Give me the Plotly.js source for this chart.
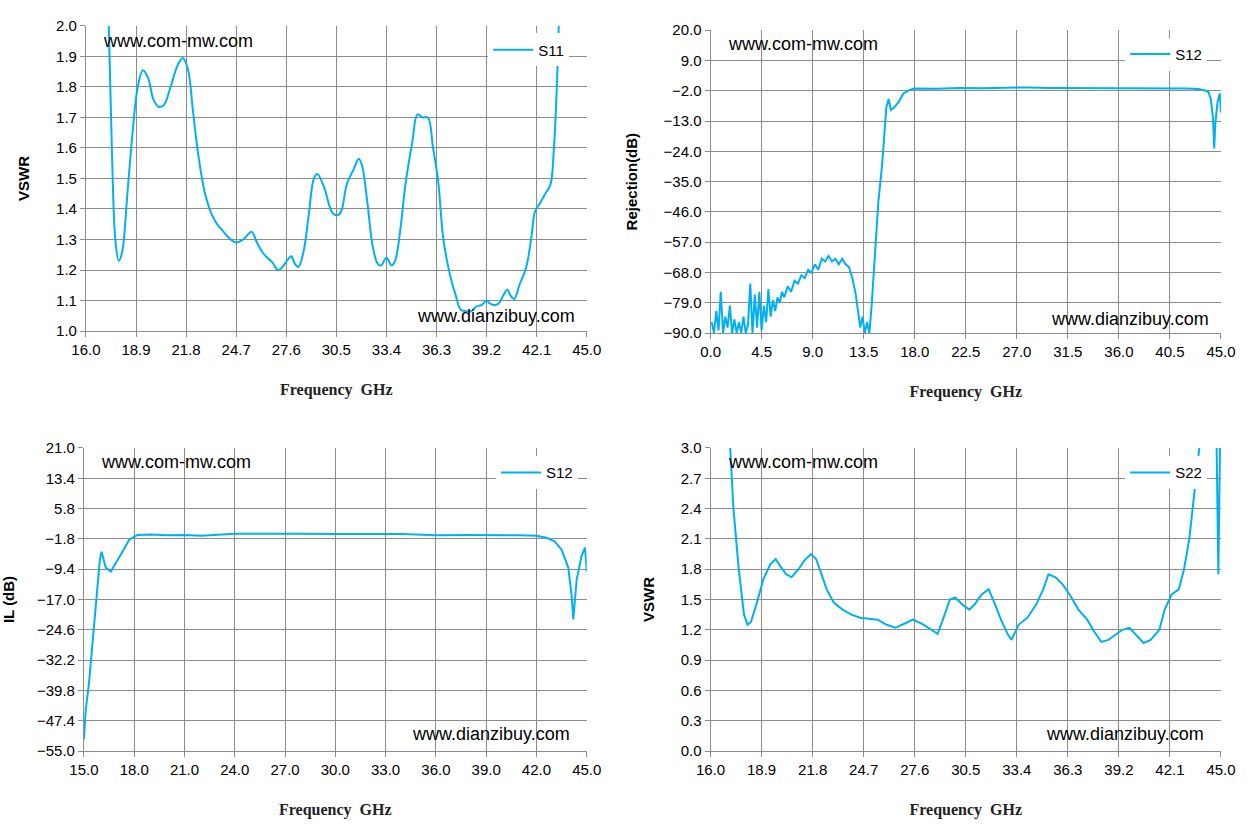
<!DOCTYPE html>
<html>
<head>
<script src="https://cdn.plot.ly/plotly-3.0.1.min.js"></script>
<style>body{margin:0;background:#fff}#chart{width:1251px;height:837px}</style>
</head>
<body>
<div id="chart"></div>
<script>
// S11 VSWR (top left)
const s11X = [17.3,17.5,17.7,17.9,18.1,18.4,18.7,19.0,19.3,19.6,19.9,20.2,20.5,20.9,21.3,21.6,21.9,22.2,22.5,22.9,23.3,23.6,23.9,24.2,24.7,25.1,25.6,25.9,26.2,26.5,26.8,27.1,27.3,27.7,27.9,28.1,28.3,28.6,28.9,29.2,29.4,29.8,30.1,30.3,30.6,30.8,31.1,31.5,31.8,32.0,32.3,32.6,32.9,33.1,33.4,33.7,33.9,34.2,34.5,34.9,35.2,35.5,35.8,36.1,36.4,36.7,37.1,37.4,37.7,38.0,38.3,38.6,38.9,39.2,39.4,39.7,39.9,40.2,40.4,40.6,40.8,41.1,41.5,41.8,42.0,42.3,42.6,42.9,43.1,43.3,43.4];
const s11Y = [2.05,1.6,1.3,1.23,1.26,1.45,1.65,1.8,1.855,1.83,1.76,1.735,1.74,1.8,1.87,1.895,1.86,1.72,1.58,1.45,1.38,1.35,1.33,1.31,1.29,1.30,1.325,1.29,1.26,1.24,1.225,1.2,1.205,1.235,1.245,1.22,1.21,1.26,1.38,1.50,1.515,1.47,1.41,1.385,1.38,1.395,1.48,1.53,1.565,1.54,1.42,1.28,1.22,1.215,1.24,1.215,1.23,1.33,1.48,1.62,1.71,1.70,1.70,1.6,1.49,1.3,1.18,1.12,1.07,1.065,1.065,1.08,1.085,1.1,1.09,1.085,1.09,1.12,1.135,1.115,1.105,1.15,1.21,1.31,1.39,1.42,1.45,1.48,1.6,1.85,2.05];

// S12 rejection (top right)
const rejX = [0.1,0.3,0.5,0.7,0.9,1.1,1.3,1.5,1.7,1.9,2.1,2.3,2.5,2.7,2.9,3.1,3.3,3.5,3.7,3.9,4.1,4.3,4.5,4.7,4.9,5.1,5.3,5.5,5.7,5.9,6.1,6.3,6.5,6.8,7.1,7.4,7.7,8.0,8.3,8.6,8.9,9.2,9.5,9.8,10.1,10.4,10.7,11.0,11.3,11.6,11.9,12.2,12.5,12.8,13.0,13.2,13.4,13.6,13.8,14.0,14.2,14.5,14.8,15.1,15.3,15.5,15.7,15.9,16.2,16.6,17.0,17.5,18.0,20,22,24,26,28,30,32,34,36,38,40,42,43,43.5,43.9,44.1,44.3,44.4,44.5,44.7,44.9,45.0];
const rejY = [-86,-90,-82,-89,-75,-90,-84,-88,-80,-90,-85,-90,-86,-90,-84,-90,-87,-72,-90,-76,-88,-75,-89,-80,-86,-74,-84,-78,-82,-77,-79,-75,-77,-73,-75,-71,-72,-69,-70,-67,-68,-65,-67,-63,-64,-62,-64,-63,-65,-63,-65,-66,-70,-76,-82,-88,-84,-90,-86,-90,-80,-60,-42,-30,-18,-8,-5,-9,-8,-6,-3,-1.8,-1.2,-1.3,-1.0,-1.1,-0.9,-0.8,-1.0,-1.0,-1.1,-1.0,-1.1,-1.0,-1.2,-1.4,-1.8,-2.5,-5,-12,-23,-14,-6,-3,-10];

// S12 insertion loss (bottom left)
const ilX = [15.0,15.1,15.3,15.4,15.6,15.8,15.95,16.05,16.3,16.6,16.9,17.3,17.7,18.2,19,20,21,22,24,26,27,28,30,32,33,34,36,38,40,41,42,42.6,43.1,43.5,43.9,44.1,44.2,44.4,44.7,44.9,45.0];
const ilY = [-52,-45,-38,-33,-25,-15,-7,-5,-9,-10,-8,-5,-2,-0.8,-0.7,-0.9,-0.8,-1.0,-0.5,-0.5,-0.4,-0.5,-0.6,-0.7,-0.6,-0.6,-0.9,-0.8,-0.8,-0.9,-1.0,-1.5,-2.5,-4.5,-9,-16,-22,-12,-6,-4,-10];

// S22 VSWR (bottom right)
const s22X = [17.1,17.3,17.6,17.9,18.1,18.3,18.6,19.0,19.4,19.7,20.0,20.3,20.6,21.0,21.3,21.7,22.0,22.3,22.6,23.0,23.5,24.0,24.5,25.0,25.5,26.0,26.5,27.0,27.5,28.0,28.5,28.9,29.2,29.6,29.9,30.3,30.7,31.0,31.4,31.8,32.1,32.5,32.9,33.1,33.5,34.0,34.5,34.9,35.2,35.6,36.0,36.4,36.9,37.4,37.8,38.2,38.6,39.0,39.4,39.8,40.2,40.6,41.0,41.5,41.8,42.2,42.6,42.9,43.2,43.5,43.8,44.75,44.85,44.95];
const s22Y = [3.05,2.4,1.8,1.35,1.25,1.28,1.45,1.7,1.85,1.9,1.82,1.75,1.72,1.8,1.88,1.95,1.9,1.75,1.6,1.47,1.4,1.35,1.32,1.31,1.3,1.25,1.22,1.26,1.30,1.26,1.2,1.16,1.3,1.5,1.52,1.45,1.4,1.45,1.55,1.6,1.48,1.3,1.15,1.1,1.25,1.32,1.45,1.6,1.75,1.72,1.65,1.55,1.4,1.3,1.18,1.08,1.1,1.15,1.2,1.22,1.15,1.07,1.1,1.2,1.4,1.55,1.6,1.8,2.1,2.6,3.05,3.05,1.75,3.05];

const lineColor = '#00b0f0';
const tickFont = {family: 'Liberation Sans, Arial', size: 15, color: '#000'};
const xTitleFont = {family: 'Liberation Serif, serif', size: 16, color: '#222', weight: 'bold'};
const yTitleFont = {family: 'Liberation Sans, Arial', size: 15, color: '#000', weight: 'bold'};

function axis(domain, range, dtick, title, anchor) {
  const isX = title.startsWith('Freq');
  return {
    domain: domain, range: range, dtick: dtick, tick0: range[0], anchor: anchor,
    tickformat: '.1f', showgrid: true, gridcolor: '#8c8c8c', gridwidth: 1,
    showline: true, linecolor: '#8c8c8c', mirror: false, zeroline: false,
    ticks: 'outside', ticklen: 5, tickcolor: '#8c8c8c', tickfont: tickFont,
    title: {text: isX ? 'Frequency&nbsp;&nbsp;GHz' : title, font: isX ? xTitleFont : yTitleFont, standoff: isX ? 26 : 22},
    fixedrange: true
  };
}

const data = [
  {x: s11X, y: s11Y, mode: 'lines', name: 'S11', line: {color: lineColor, width: 2, shape: 'spline'}, xaxis: 'x', yaxis: 'y', legend: 'legend'},
  {x: rejX, y: rejY, mode: 'lines', name: 'S12', line: {color: lineColor, width: 2}, xaxis: 'x2', yaxis: 'y2', legend: 'legend2'},
  {x: ilX, y: ilY, mode: 'lines', name: 'S12', line: {color: lineColor, width: 2}, xaxis: 'x3', yaxis: 'y3', legend: 'legend3'},
  {x: s22X, y: s22Y, mode: 'lines', name: 'S22', line: {color: lineColor, width: 2}, xaxis: 'x4', yaxis: 'y4', legend: 'legend4'}
];

const legendStyle = (x, y) => ({x: x, y: y, xanchor: 'right', yanchor: 'top', bgcolor: '#fff',
  font: {family: 'Liberation Sans, Arial', size: 15, color: '#000'}, itemwidth: 40});

const wm = (text, xref, yref, x, y, xa) => ({text: text, xref: xref + ' domain', yref: yref + ' domain',
  x: x, y: y, xanchor: xa, yanchor: 'middle', showarrow: false,
  font: {family: 'Liberation Sans, Arial', size: 18, color: '#000'}});

const layout = {
  width: 1251, height: 837, margin: {l: 0, r: 0, t: 0, b: 0},
  paper_bgcolor: '#fff', plot_bgcolor: '#fff',
  xaxis: axis([0.0687, 0.469], [16, 45], 2.9, 'Frequency GHz', 'y'),
  yaxis: axis([0.6045, 0.969], [1.0, 2.0], 0.1, 'VSWR', 'x'),
  xaxis2: axis([0.568, 0.976], [0, 45], 4.5, 'Frequency GHz', 'y2'),
  yaxis2: axis([0.602, 0.964], [-90, 20], 11, 'Rejection(dB)', 'x2'),
  xaxis3: axis([0.0671, 0.469], [15, 45], 3, 'Frequency GHz', 'y3'),
  yaxis3: axis([0.1027, 0.4648], [-55, 21], 7.6, 'IL (dB)', 'x3'),
  xaxis4: axis([0.568, 0.976], [16, 45], 2.9, 'Frequency GHz', 'y4'),
  yaxis4: axis([0.1027, 0.4648], [0, 3], 0.3, 'VSWR', 'x4'),
  showlegend: true,
  legend: legendStyle(0.455, 0.96),
  legend2: legendStyle(0.965, 0.955),
  legend3: legendStyle(0.462, 0.455),
  legend4: legendStyle(0.965, 0.455),
  annotations: [
    wm('www.com-mw.com', 'x', 'y', 0.03, 0.95, 'left'),
    wm('www.dianzibuy.com', 'x', 'y', 0.98, 0.05, 'right'),
    wm('www.com-mw.com', 'x2', 'y2', 0.03, 0.955, 'left'),
    wm('www.dianzibuy.com', 'x2', 'y2', 0.98, 0.045, 'right'),
    wm('www.com-mw.com', 'x3', 'y3', 0.03, 0.955, 'left'),
    wm('www.dianzibuy.com', 'x3', 'y3', 0.97, 0.055, 'right'),
    wm('www.com-mw.com', 'x4', 'y4', 0.03, 0.955, 'left'),
    wm('www.dianzibuy.com', 'x4', 'y4', 0.97, 0.055, 'right')
  ]
};

Plotly.newPlot('chart', data, layout, {displayModeBar: false, staticPlot: true});
</script>
</body>
</html>
